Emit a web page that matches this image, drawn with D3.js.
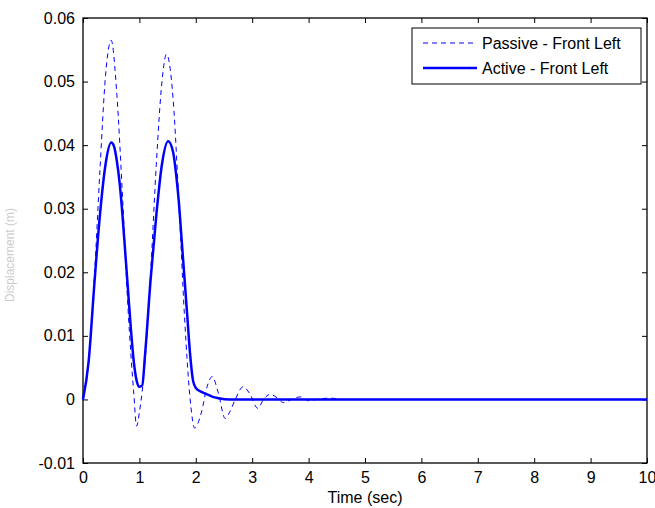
<!DOCTYPE html>
<html>
<head>
<meta charset="utf-8">
<script src="https://cdn.jsdelivr.net/npm/d3@7"></script>
<style>
  body { margin: 0; background: #fff; }
  text { font-family: "Liberation Sans", Arial, sans-serif; }
</style>
</head>
<body>
<div id="chart"></div>
<script>
// values
var timeP = [0, 0.1, 0.2, 0.3, 0.4, 0.5, 0.6, 0.7, 0.8, 0.9, 0.95, 1.0, 1.1, 1.2, 1.3, 1.4, 1.48, 1.6, 1.7, 1.8, 1.9, 1.98, 2.1, 2.2, 2.29, 2.4, 2.52, 2.6, 2.7, 2.84, 2.95, 3.1, 3.2, 3.32, 3.45, 3.55, 3.7, 3.85, 4.0, 4.2, 4.4, 4.6, 5, 6, 7, 8, 9, 10];
var passive = [0, 0.006, 0.019, 0.036, 0.051, 0.0565, 0.048, 0.032, 0.014, 0.001, -0.0042, -0.002, 0.006, 0.020, 0.037, 0.050, 0.0543, 0.047, 0.031, 0.013, 0.000, -0.0045, -0.002, 0.002, 0.0036, 0.001, -0.003, -0.002, 0.000, 0.002, 0.001, -0.0014, 0.000, 0.0008, 0.0002, -0.0005, 0.000, 0.0004, -0.0002, 0.0001, 0.0002, 0, 0, 0, 0, 0, 0, 0];
var timeA = [0, 0.1, 0.2, 0.3, 0.4, 0.5, 0.55, 0.6, 0.65, 0.7, 0.75, 0.8, 0.85, 0.9, 0.95, 1.0, 1.05, 1.1, 1.2, 1.3, 1.4, 1.51, 1.6, 1.65, 1.7, 1.75, 1.8, 1.85, 1.9, 1.95, 2.0, 2.1, 2.2, 2.3, 2.4, 2.6, 3, 4, 5, 6, 7, 8, 9, 10];
var active = [0, 0.006, 0.018, 0.029, 0.037, 0.0404, 0.0398, 0.0375, 0.034, 0.029, 0.023, 0.017, 0.011, 0.006, 0.003, 0.002, 0.0022, 0.007, 0.019, 0.029, 0.037, 0.0406, 0.0388, 0.0355, 0.031, 0.025, 0.019, 0.013, 0.007, 0.003, 0.0018, 0.0012, 0.0008, 0.0004, 0.0002, 0, 0, 0, 0, 0, 0, 0, 0, 0];
var xTicks = [0, 1, 2, 3, 4, 5, 6, 7, 8, 9, 10];
var yTicks = [-0.01, 0, 0.01, 0.02, 0.03, 0.04, 0.05, 0.06];
var seriesNames = ["Passive - Front Left", "Active - Front Left"];

var w = 655, h = 508;
var margin = {top: 18, right: 8, bottom: 45, left: 83};
var blue = "#0000ff";

var svg = d3.select("#chart").append("svg")
  .attr("width", w)
  .attr("height", h);

var xScale = d3.scaleLinear().domain([0, 10]).range([margin.left, w - margin.right]);
var yScale = d3.scaleLinear().domain([-0.01, 0.06]).range([h - margin.bottom, margin.top]);

// axes with inward ticks on all four sides
var fmtY = function(d){ return d === 0 ? "0" : d3.format(".2f")(d).replace("\u2212", "-"); };
svg.append("g")
  .attr("transform", "translate(0," + (h - margin.bottom) + ")")
  .call(d3.axisBottom(xScale).tickValues(xTicks).tickSize(-5).tickPadding(9).tickFormat(d3.format("d")))
  .call(function(g){ g.select(".domain").remove(); });
svg.append("g")
  .attr("transform", "translate(0," + margin.top + ")")
  .call(d3.axisTop(xScale).tickValues(xTicks).tickSize(-5).tickFormat(""))
  .call(function(g){ g.select(".domain").remove(); });
svg.append("g")
  .attr("transform", "translate(" + margin.left + ",0)")
  .call(d3.axisLeft(yScale).tickValues(yTicks).tickSize(-5).tickPadding(8).tickFormat(fmtY))
  .call(function(g){ g.select(".domain").remove(); });
svg.append("g")
  .attr("transform", "translate(" + (w - margin.right) + ",0)")
  .call(d3.axisRight(yScale).tickValues(yTicks).tickSize(-5).tickFormat(""))
  .call(function(g){ g.select(".domain").remove(); });

svg.selectAll(".tick text")
  .attr("font-size", "16px")
  .attr("font-family", "Liberation Sans, Arial, sans-serif")
  .attr("fill", "#000");
svg.selectAll(".tick line").attr("stroke", "#000");

// box
svg.append("rect")
  .attr("x", margin.left)
  .attr("y", margin.top)
  .attr("width", w - margin.right - margin.left)
  .attr("height", h - margin.bottom - margin.top)
  .attr("fill", "none")
  .attr("stroke", "#000")
  .attr("stroke-width", 1.3);

// labels
svg.append("text")
  .attr("x", (margin.left + w - margin.right) / 2)
  .attr("y", 503)
  .attr("text-anchor", "middle")
  .attr("font-size", "16px")
  .text("Time (sec)");
svg.append("text")
  .attr("transform", "rotate(-90)")
  .attr("x", -255)
  .attr("y", 14)
  .attr("text-anchor", "middle")
  .attr("font-size", "12px")
  .attr("fill", "#ccc")
  .text("Displacement (m)");

// lines
var line = d3.line()
  .x(function(d){ return xScale(d[0]); })
  .y(function(d){ return yScale(d[1]); })
  .curve(d3.curveMonotoneX);

svg.append("path")
  .datum(timeP.map(function(t, i){ return [t, passive[i]]; }))
  .attr("d", line)
  .attr("fill", "none")
  .attr("stroke", blue)
  .attr("stroke-width", 1)
  .attr("stroke-dasharray", "5,4");
svg.append("path")
  .datum(timeA.map(function(t, i){ return [t, active[i]]; }))
  .attr("d", line)
  .attr("fill", "none")
  .attr("stroke", blue)
  .attr("stroke-width", 2.5);

// legend
var leg = svg.append("g");
leg.append("rect")
  .attr("x", 412).attr("y", 28)
  .attr("width", 229).attr("height", 56)
  .attr("fill", "#fff")
  .attr("stroke", "#000")
  .attr("stroke-width", 1);
seriesNames.forEach(function(name, i){
  var yy = 43 + i * 25;
  leg.append("line")
    .attr("x1", 423).attr("x2", 477)
    .attr("y1", yy).attr("y2", yy)
    .attr("stroke", blue)
    .attr("stroke-width", i === 0 ? 1 : 2.5)
    .attr("stroke-dasharray", i === 0 ? "5,4" : null);
  leg.append("text")
    .attr("x", 482).attr("y", yy + 6)
    .attr("font-size", "16px")
    .text(name);
});
</script>
</body>
</html>
